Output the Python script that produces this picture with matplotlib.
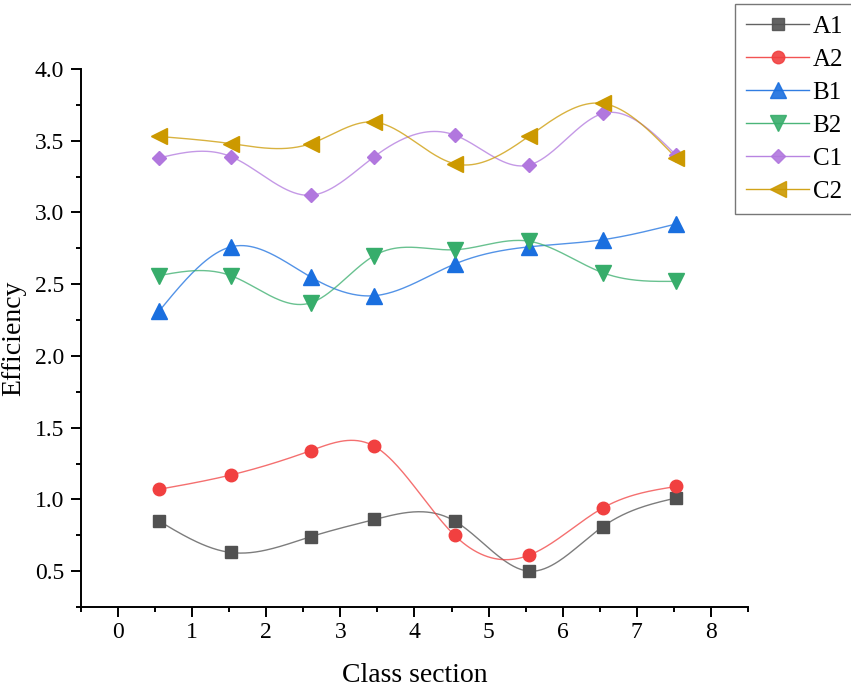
import numpy as np
import matplotlib
matplotlib.use("Agg")
import matplotlib.pyplot as plt
from matplotlib.ticker import MultipleLocator, FormatStrFormatter

plt.rcParams['font.family'] = ['Liberation Serif', 'DejaVu Serif']

# data
class_pos = [0.55, 1.52, 2.6, 3.46, 4.54, 5.54, 6.54, 7.53]
a1 = [0.85, 0.63, 0.74, 0.86, 0.85, 0.50, 0.81, 1.01]
a2 = [1.07, 1.17, 1.34, 1.37, 0.75, 0.61, 0.94, 1.09]
b1 = [2.31, 2.76, 2.55, 2.42, 2.64, 2.76, 2.81, 2.92]
b2 = [2.56, 2.56, 2.37, 2.70, 2.74, 2.80, 2.58, 2.52]
c1 = [3.38, 3.39, 3.12, 3.39, 3.54, 3.33, 3.69, 3.40]
c2 = [3.53, 3.48, 3.48, 3.63, 3.34, 3.53, 3.76, 3.38]

series_names = ['A1', 'A2', 'B1', 'B2', 'C1', 'C2']
series_colors = ['#515151', '#F14040', '#1A6FDF', '#37AD6B', '#B177DE', '#CC9900']
series_markers = ['s', 'o', '^', 'v', 'D', '<']
marker_sizes = [8.5, 9, 11, 11, 7.5, 11]


def spline_curve(x, y, n=300):
    # natural cubic spline through the points, only for drawing the connector
    x = np.asarray(x, float)
    y = np.asarray(y, float)
    k = len(x)
    h = np.diff(x)
    A = np.zeros((k, k))
    r = np.zeros(k)
    A[0, 0] = A[-1, -1] = 1
    for i in range(1, k - 1):
        A[i, i - 1] = h[i - 1]
        A[i, i] = 2 * (h[i - 1] + h[i])
        A[i, i + 1] = h[i]
        r[i] = 3 * ((y[i + 1] - y[i]) / h[i] - (y[i] - y[i - 1]) / h[i - 1])
    c = np.linalg.solve(A, r)
    xs = np.linspace(x[0], x[-1], n)
    idx = np.clip(np.searchsorted(x, xs) - 1, 0, k - 2)
    dx = xs - x[idx]
    b = (y[1:] - y[:-1]) / h - h * (2 * c[:-1] + c[1:]) / 3
    d = (c[1:] - c[:-1]) / (3 * h)
    ys = y[idx] + b[idx] * dx + c[idx] * dx ** 2 + d[idx] * dx ** 3
    return xs, ys


fig = plt.figure(figsize=(8.51, 6.90), dpi=100)
ax = fig.add_axes([81 / 851, 1 - 607 / 690, (748 - 81) / 851, (607 - 69) / 690])

handles = []
for name, vals, col, mk, ms in zip(series_names, [a1, a2, b1, b2, c1, c2],
                                   series_colors, series_markers, marker_sizes):
    xs, ys = spline_curve(class_pos, vals)
    ax.plot(xs, ys, color=col, lw=1.0, alpha=0.75, zorder=2)
    ax.plot(class_pos, vals, ls='none', marker=mk, ms=ms, color=col,
            markeredgecolor=col, zorder=3)
    h, = ax.plot([], [], color=col, lw=1.0, alpha=0.9, marker=mk, ms=ms,
                 markeredgecolor=col, label=name)
    handles.append(h)

ax.set_xlim(-0.5, 8.5)
ax.set_ylim(0.25, 4.0)
ax.xaxis.set_major_locator(MultipleLocator(1))
ax.xaxis.set_minor_locator(MultipleLocator(0.5))
ax.yaxis.set_major_locator(MultipleLocator(0.5))
ax.yaxis.set_minor_locator(MultipleLocator(0.25))
ax.yaxis.set_major_formatter(FormatStrFormatter('%.1f'))
ax.tick_params(which='major', direction='out', length=7, width=1.4, labelsize=17)
ax.tick_params(which='minor', direction='out', length=3.5, width=1.4)
ax.tick_params(axis='x', pad=4)
ax.tick_params(axis='y', pad=5)
for s in ['top', 'right']:
    ax.spines[s].set_visible(False)
for s in ['left', 'bottom']:
    ax.spines[s].set_linewidth(1.4)

ax.set_xlabel('Class section', fontsize=20, labelpad=14)
ax.set_ylabel('Efficiency', fontsize=20, labelpad=6)

leg = fig.legend(handles=handles, loc='upper left',
                 bbox_to_anchor=(735 / 851, 1 - 4 / 690), borderaxespad=0,
                 fontsize=18, frameon=True, fancybox=False, edgecolor='#555555',
                 handlelength=2.5, handletextpad=0.15, labelspacing=0.42,
                 borderpad=0.45)
leg.get_frame().set_linewidth(1.0)

fig.savefig('out.png', dpi=100)
